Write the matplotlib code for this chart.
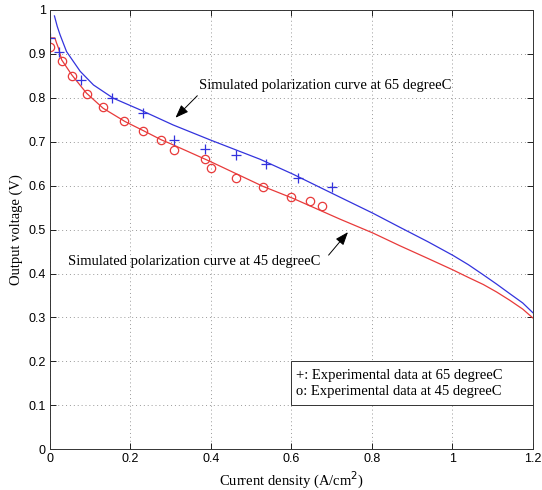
import matplotlib
matplotlib.use("Agg")
import matplotlib.pyplot as plt
from matplotlib.patches import Rectangle

# experimental data
exp65_x = [0.0, 0.023, 0.076, 0.155, 0.23, 0.308, 0.386, 0.462, 0.537, 0.617, 0.700]
exp65_y = [0.936, 0.905, 0.840, 0.799, 0.766, 0.703, 0.683, 0.670, 0.649, 0.618, 0.596]

exp45_x = [0.0, 0.031, 0.054, 0.093, 0.131, 0.185, 0.230, 0.277, 0.308, 0.385,
           0.400, 0.462, 0.530, 0.600, 0.646, 0.677]
exp45_y = [0.916, 0.884, 0.850, 0.809, 0.778, 0.746, 0.724, 0.703, 0.681, 0.661,
           0.639, 0.618, 0.596, 0.574, 0.565, 0.553]

# simulated curves
sim65_x = [0.011, 0.018, 0.025, 0.041, 0.075, 0.108, 0.157, 0.225, 0.306, 0.398,
           0.522, 0.604, 0.720, 0.803, 0.870, 0.940, 1.002, 1.040, 1.077, 1.110,
           1.143, 1.175, 1.2]
sim65_y = [0.986, 0.962, 0.943, 0.905, 0.860, 0.829, 0.799, 0.772, 0.738, 0.704,
           0.660, 0.626, 0.574, 0.537, 0.505, 0.472, 0.441, 0.420, 0.397, 0.376,
           0.354, 0.333, 0.311]

sim45_x = [0.0, 0.012, 0.016, 0.021, 0.029, 0.054, 0.091, 0.132, 0.186, 0.232,
           0.277, 0.298, 0.398, 0.530, 0.604, 0.720, 0.803, 0.870, 0.940, 1.002,
           1.040, 1.077, 1.110, 1.143, 1.175, 1.2]
sim45_y = [0.936, 0.936, 0.925, 0.913, 0.886, 0.852, 0.810, 0.776, 0.746, 0.725,
           0.704, 0.696, 0.655, 0.598, 0.571, 0.524, 0.492, 0.463, 0.434, 0.408,
           0.391, 0.375, 0.358, 0.339, 0.319, 0.299]

legend_lines = ["+: Experimental data at 65 degreeC",
                "o: Experimental data at 45 degreeC"]

SERIF = "Liberation Serif"
SANS = "Liberation Sans"
BLUE = "#3333dd"
RED = "#e83a3a"


def main() -> None:
    fig = plt.figure(figsize=(5.42, 4.9), dpi=100)
    ax = fig.add_axes([0.0923, 0.083, 0.8907, 0.897])

    ax.plot(sim65_x, sim65_y, color=BLUE, lw=0.9)
    ax.plot(sim45_x, sim45_y, color=RED, lw=0.9)
    ax.plot(exp65_x, exp65_y, "+", color=BLUE, ms=6.5, mew=0.9)
    ax.plot(exp45_x, exp45_y, "o", mfc="none", mec=RED, ms=6, mew=0.9)

    ax.set_xlim(0, 1.2)
    ax.set_ylim(0, 1)
    ax.set_xticks([0, 0.2, 0.4, 0.6, 0.8, 1.0, 1.2])
    ax.set_xticklabels(["0", "0.2", "0.4", "0.6", "0.8", "1", "1.2"])
    ax.set_yticks([0, 0.1, 0.2, 0.3, 0.4, 0.5, 0.6, 0.7, 0.8, 0.9, 1.0])
    ax.set_yticklabels(["0", "0.1", "0.2", "0.3", "0.4", "0.5", "0.6", "0.7",
                        "0.8", "0.9", "1"])
    ax.tick_params(direction="in", top=True, right=True, length=4, width=0.6,
                   labelsize=9, pad=3)
    for lab in ax.get_xticklabels() + ax.get_yticklabels():
        lab.set_family(SANS)
    ax.grid(True, linestyle=(0, (1, 3)), color="#999999", lw=0.7)
    for sp in ax.spines.values():
        sp.set_linewidth(0.7)
        sp.set_color("#333333")

    ax.set_xlabel("Current density (A/cm$^2$)", family=SERIF, fontsize=10.5,
                  labelpad=3)
    ax.set_ylabel("Output voltage (V)", family=SERIF, fontsize=10.5, labelpad=4)

    arrow = dict(arrowstyle="-|>,head_length=0.8,head_width=0.3",
                 color="black", lw=0.7)
    ax.text(0.370, 0.827, "Simulated polarization curve at 65 degreeC",
            family=SERIF, fontsize=10.5, va="center", ha="left")
    ax.annotate("", xy=(0.307, 0.750), xytext=(0.371, 0.809), arrowprops=arrow)
    ax.text(0.045, 0.427, "Simulated polarization curve at 45 degreeC",
            family=SERIF, fontsize=10.5, va="center", ha="left")
    ax.annotate("", xy=(0.745, 0.499), xytext=(0.688, 0.437), arrowprops=arrow)

    ax.add_patch(Rectangle((0.6, 0.1), 0.6, 0.1, fc="white", ec="#333333",
                           lw=0.7, zorder=5))
    ax.text(0.611, 0.169, legend_lines[0], family=SERIF, fontsize=10.5,
            va="center", ha="left", zorder=6)
    ax.text(0.611, 0.131, legend_lines[1], family=SERIF, fontsize=10.5,
            va="center", ha="left", zorder=6)

    fig.savefig("out.png", dpi=100)
    plt.close(fig)


if __name__ == "__main__":
    main()
